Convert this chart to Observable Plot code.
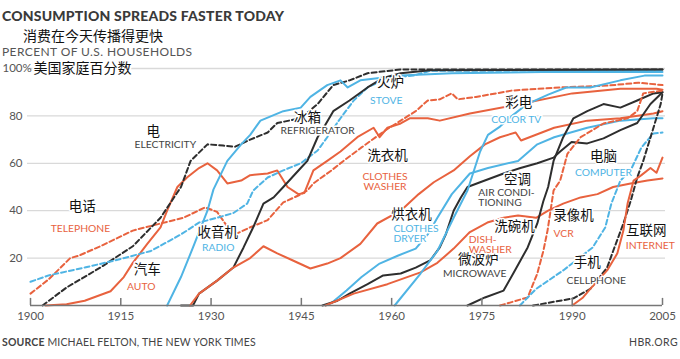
<!DOCTYPE html>
<html><head><meta charset="utf-8">
<script src="https://cdn.jsdelivr.net/npm/d3@7"></script>
<script src="https://cdn.jsdelivr.net/npm/@observablehq/plot@0.6"></script>
<style>
body{margin:0;background:#fff;}
#wrap{position:relative;width:680px;height:359px;overflow:hidden;background:#fff;}
.t{position:absolute;white-space:nowrap;line-height:1;}
#chart{position:absolute;left:0;top:58px;}
</style></head><body><div id="wrap">
<div class="t" style="left:2px;top:7px;font:900 14px Lato,sans-serif;color:#3a3a3a;letter-spacing:0.2px;">CONSUMPTION SPREADS FASTER TODAY</div>
<div class="t" style="left:23px;top:25px;font:14px 'Noto Sans CJK SC',sans-serif;color:#111;">消费在今天传播得更快</div>
<div class="t" style="left:2px;top:44px;font:12px Lato,sans-serif;color:#555;letter-spacing:0.4px;">PERCENT OF U.S. HOUSEHOLDS</div>
<div id="chart"></div>
<div class="t" style="left:2px;top:336px;font:10.5px Lato,sans-serif;color:#444;letter-spacing:0.15px;"><b>SOURCE</b> MICHAEL FELTON, THE NEW YORK TIMES</div>
<div class="t" style="right:2px;top:336px;font:10.5px Lato,sans-serif;color:#444;letter-spacing:0.4px;">HBR.ORG</div>
</div>
<script>
// ---- data: [year, percent of U.S. households] ----
const telephone = [[1900,5],[1903,11],[1906.6,20],[1908,21],[1911.6,25],[1917,31.6],[1921.6,34.6],[1925.4,37],[1929,41.4],[1931,39.5],[1932.5,34],[1934,30],[1936.5,33],[1939.4,36],[1942,43.5],[1944.5,46.4],[1946,48.5],[1947,51.5],[1950,57],[1952,61],[1955,66.7],[1959,74],[1961.5,78],[1964,82],[1966,86.5],[1968,87],[1970,89.5],[1971,87],[1974,88],[1980,90.7],[1988,92],[1996,92.8],[2001,94],[2005,93]];
const auto = [[1902.5,0],[1906,0.5],[1909,2],[1913.3,6],[1915.5,12],[1917,18],[1919.4,26],[1921.6,33],[1922.7,40],[1924.4,50],[1926,54],[1928,58],[1929.4,60],[1931,57],[1932.7,51.5],[1935,52.7],[1936.5,55],[1939.4,55.7],[1941,57],[1942.7,50],[1944.5,47],[1945.5,47.5],[1947,57],[1949.3,61],[1951.5,65],[1954.3,71],[1957,75],[1958,71],[1959.3,75],[1961.5,76.8],[1963,79],[1966,79],[1968,78],[1973,81],[1981.4,85],[1990,89.5],[1998,91.5],[2004,91.5],[2005,91]];
const electricity = [[1902,0],[1906,7.6],[1911.6,16],[1917,25],[1921.6,37],[1925,50],[1926.6,61],[1929.4,68],[1932,67.5],[1934,67],[1936.5,70],[1939.4,73],[1941,77],[1944.9,79],[1947.7,85],[1950.3,93],[1953,95],[1956,98],[1961.5,99.6],[2005,99.6]];
const radio = [[1922.7,0],[1925,12],[1927,24.5],[1929.4,40],[1930.4,49],[1932.7,61],[1935,68],[1936.5,72],[1938.2,78],[1942,82],[1944.9,83.5],[1946.5,88],[1949.3,93],[1951.5,95],[1952.7,92],[1954.8,95],[1961.5,97],[1970,98],[1985,98.5],[2005,98.5]];
const stove = [[1900,10],[1903,12.7],[1909,16],[1914,19],[1920,23],[1925,30],[1928,35],[1931,37],[1933.7,39],[1936,43],[1937,48.5],[1939.4,54],[1942,57],[1944.9,60],[1947.7,65.4],[1949.3,71],[1951.5,79],[1953.7,86.5],[1956,92],[1959.3,96],[1963.6,97],[1966.4,99],[2005,99.3]];
const refrigerator = [[1925,0],[1927,0],[1928,5],[1931,10.5],[1933.7,16],[1935.4,24.5],[1937,33],[1938.7,43],[1940.4,45.6],[1942,50],[1944.9,58],[1946,61],[1947.7,71],[1948.7,75],[1950.3,82],[1953,86.5],[1956,92],[1958.6,96],[1961.5,98],[1966.4,99.3],[2005,99.6]];
const clothesWasher = [[1926.5,0],[1928,5],[1931,10.5],[1933.7,16],[1936.5,20],[1938.7,25],[1941,22],[1943.6,19],[1946.5,15.6],[1949.3,17.7],[1951.5,20],[1954.8,26],[1957.6,34.6],[1961.5,40],[1964.5,47],[1967,52],[1970.3,57],[1973,63],[1975.5,68],[1978,71],[1980.6,73],[1981.5,69.6],[1987,75],[1992.5,78],[1998,79],[2003.5,81],[2005,82]];
const clothesDryer = [[1949,0],[1950,1],[1952.5,6.3],[1955,12],[1958,17.7],[1961,21],[1964,24],[1966,30],[1967.6,37],[1970,47],[1973,55.7],[1976,58],[1981,61],[1984.2,68],[1987,71],[1992.5,75],[1998,78],[2003.5,79],[2005,79]];
const airConditioning = [[1948.5,0],[1951,2],[1953,5],[1956,9],[1958.6,12.7],[1961.5,13.5],[1964,16],[1966.4,19],[1968,24.5],[1969,30],[1970.3,40],[1971.5,45.6],[1972.6,50],[1974.7,52],[1978.6,55.7],[1981.4,58],[1984.2,60],[1986.9,62.4],[1988,65],[1989.9,69],[1992.5,68.4],[1995.2,70.5],[1998,74],[2000.8,77],[2003,85],[2005,90]];
const dishwasher = [[1949,0],[1953.7,5],[1959.3,9],[1964.8,14],[1967.6,18],[1970.3,24],[1973,31],[1975.9,35],[1978.6,37],[1981,38],[1984,37],[1986,40],[1988.5,43],[1991.4,45.6],[1994.2,47],[1996.8,50],[1999.7,51.5],[2002.5,52.7],[2005,53.6]];
const colorTV = [[1960.5,0],[1964.8,13.5],[1967.6,23],[1970.3,37],[1972.6,48.5],[1974.7,65],[1976,72],[1978,75.5],[1980,80],[1982.5,85],[1986,89],[1989,92],[1993,92],[1998,95],[2002,97],[2005,97]];
const microwave = [[1972.6,0],[1975.5,3.4],[1978.6,6.3],[1980.2,13.5],[1981.4,19],[1982.6,24.5],[1984.2,34.6],[1985.2,44],[1986,50],[1986.9,61],[1988.5,71],[1990.2,79],[1992.5,82],[1995.2,85],[1998,83.5],[2000.8,86.5],[2003.5,89.5],[2005,90]];
const vcr = [[1978,0],[1982.6,3.4],[1984.2,13.5],[1985.2,23],[1985.9,31.6],[1986.4,40],[1986.9,48.5],[1988,52.7],[1989.2,64],[1991.4,71],[1995.2,76.8],[1999.2,79],[2000.8,82],[2001.8,89.5],[2005,90.7]];
const computer = [[1981.3,0],[1984,7],[1988.5,14.8],[1993.4,24.5],[1995.5,33],[1996.5,43],[1998,52.7],[1999.7,57],[2001.5,66.7],[2003.5,72.6],[2005,73]];
const cellphone = [[1983.5,0],[1990.2,3],[1993,7],[1995.8,16],[1996.8,23],[1998.5,34.6],[1999.7,44],[2000.8,54],[2001.8,61],[2003.5,75],[2004.7,85],[2005,89.5]];
const internet = [[1990,0],[1991.8,3.4],[1993,7],[1995.8,14.8],[1997.5,22],[1998.5,31.6],[1999.2,43],[2000.2,52.7],[2001.5,55],[2003,58],[2004,56],[2005,62.4]];

const xTicks = [1900, 1915, 1930, 1945, 1960, 1975, 1990, 2005];
const yTicks = [20, 40, 60, 80];
const yGrid = [20, 40, 60, 80, 100];

// series labels: [text, year, value]
const labelsCN = [
  ["电", 1920.4, 73.4], ["电话", 1908.6, 41.8], ["汽车", 1919.4, 15.2], ["收音机", 1931.1, 30.8],
  ["冰箱", 1946.0, 79.3], ["火炉", 1959.8, 94.1], ["洗衣机", 1959.3, 63.2], ["烘衣机", 1963.3, 38.5],
  ["空调", 1980.9, 53.0], ["彩电", 1981.1, 85.7], ["洗碗机", 1980.4, 33.2], ["微波炉", 1974.4, 19.2],
  ["录像机", 1990.2, 37.8], ["电脑", 1995.2, 63.0], ["手机", 1992.5, 18.0], ["互联网", 2002.3, 31.4]
];
// [text, year, value, colour key, anchor]
const labelsEN = [
  ["ELECTRICITY", 1922.4, 67.9, "k", "middle"], ["TELEPHONE", 1908.3, 32.5, "o", "middle"],
  ["AUTO", 1918.4, 8.0, "o", "middle"], ["RADIO", 1931.2, 24.5, "b", "middle"],
  ["REFRIGERATOR", 1947.7, 73.8, "k", "middle"], ["STOVE", 1959.1, 86.5, "b", "middle"],
  ["CLOTHES\nWASHER", 1958.9, 52.1, "o", "middle"],
  ["CLOTHES\nDRYER", 1960.3, 30.4, "b", "start"],
  ["AIR CONDI-\nTIONING", 1974.4, 45.4, "k", "start"],
  ["COLOR TV", 1980.7, 78.5, "b", "middle"],
  ["DISH-\nWASHER", 1972.8, 25.7, "o", "start"], ["MICROWAVE", 1973.8, 13.2, "k", "middle"],
  ["VCR", 1986.9, 30.4, "o", "start"], ["COMPUTER", 1995.2, 56.1, "b", "middle"],
  ["CELLPHONE", 1994.0, 10.5, "k", "middle"], ["INTERNET", 1998.9, 25.3, "o", "start"]
];

// ---- styles ----
const ORANGE = "#e8623e", BLUE = "#4fb4e4", BLACK = "#2e2e2e", GRAY = "#444";
const colorOf = {o: ORANGE, b: BLUE, k: GRAY};
const seriesList = [
  ["Telephone", telephone, ORANGE, true], ["Auto", auto, ORANGE, false],
  ["Electricity", electricity, BLACK, true], ["Radio", radio, BLUE, false],
  ["Stove", stove, BLUE, true], ["Refrigerator", refrigerator, BLACK, false],
  ["Clothes washer", clothesWasher, ORANGE, false], ["Clothes dryer", clothesDryer, BLUE, false],
  ["Air conditioning", airConditioning, BLACK, false], ["Dishwasher", dishwasher, ORANGE, false],
  ["Color TV", colorTV, BLUE, false], ["Microwave", microwave, BLACK, false],
  ["VCR", vcr, ORANGE, true], ["Computer", computer, BLUE, true],
  ["Cellphone", cellphone, BLACK, true], ["Internet", internet, ORANGE, false]
];

const lineMarks = seriesList.map(([name, pts, color, dashed]) =>
  Plot.line(pts, {x: d => d[0], y: d => d[1], stroke: color, strokeWidth: 2,
    strokeDasharray: dashed ? "5,3" : null, strokeLinejoin: "round"}));

const enText = (anchor) => Plot.text(labelsEN.filter(d => d[4] === anchor), {
  x: d => d[1], y: d => d[2], text: d => d[0], fill: d => colorOf[d[3]],
  textAnchor: anchor, fontSize: 10.3, lineHeight: 0.97, stroke: "white", strokeWidth: 3,
  fontFamily: "Lato, sans-serif"});

const chart = Plot.plot({
  width: 680, height: 270,
  marginTop: 10, marginBottom: 23, marginLeft: 30, marginRight: 18,
  x: {domain: [1900, 2005]},
  y: {domain: [0, 100]},
  style: {background: "transparent", overflow: "visible"},
  marks: [
    Plot.ruleY(yGrid, {stroke: "#d9d9d9", strokeWidth: 1.3, insetLeft: -3, insetRight: -3}),
    Plot.axisY({ticks: yTicks, tickSize: 0, tickPadding: 8, fontSize: 11.5, fill: "#555", label: null,
      fontFamily: "Lato, sans-serif"}),
    Plot.text([100], {y: d => d, text: () => "100%", frameAnchor: "left", dx: -28, textAnchor: "start",
      fontSize: 11.5, fill: "#555", fontFamily: "Lato, sans-serif"}),
    ...lineMarks,
    Plot.ruleY([0], {stroke: "#777", strokeWidth: 1.5}),
    Plot.ruleX(xTicks, {y1: 0, y2: 3, stroke: "#777", strokeWidth: 1.5}),
    Plot.axisX({ticks: xTicks, tickSize: 0, tickPadding: 6, fontSize: 11.5, fill: "#555", label: null,
      tickFormat: d => String(d), fontFamily: "Lato, sans-serif"}),
    Plot.text([100], {y: d => d, text: () => "美国家庭百分数", frameAnchor: "left", dx: 3, textAnchor: "start",
      fontSize: 14, fill: "#111", stroke: "white", strokeWidth: 4, fontFamily: "'Noto Sans CJK SC', sans-serif"}),
    Plot.text(labelsCN, {x: d => d[1], y: d => d[2], text: d => d[0], fontSize: 13.5, fill: "#111",
      stroke: "white", strokeWidth: 3, fontFamily: "'Noto Sans CJK SC', sans-serif"}),
    enText("middle"),
    enText("start")
  ]
});
document.getElementById("chart").appendChild(chart);
</script>
</body></html>
